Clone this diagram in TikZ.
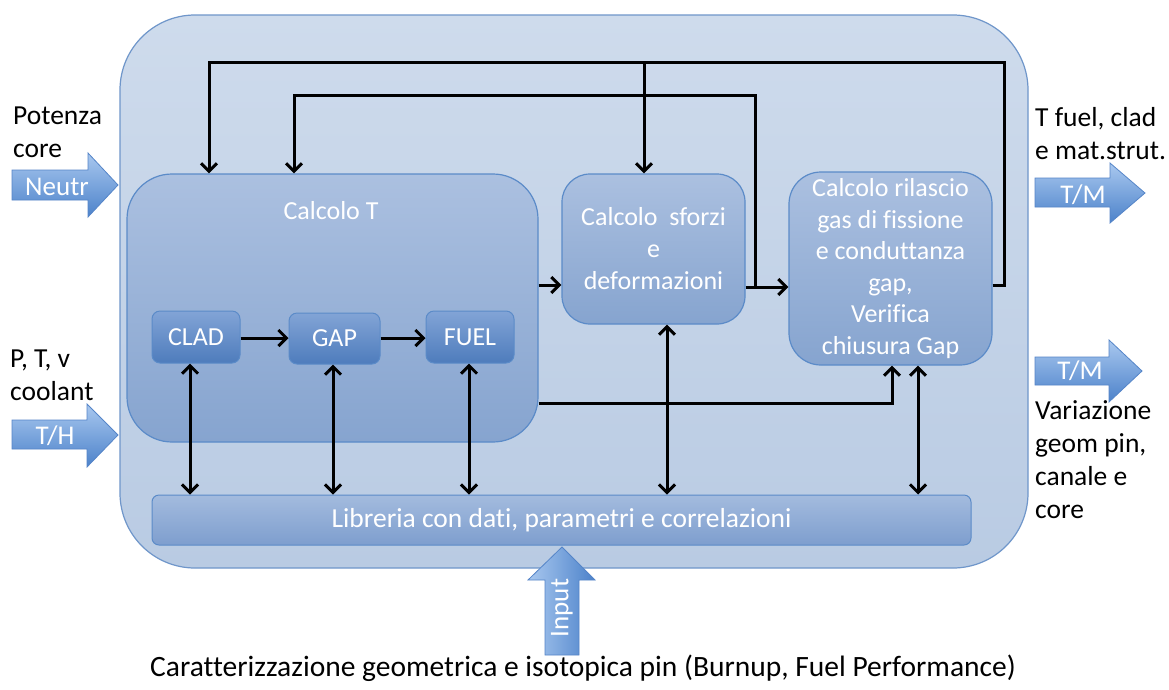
\documentclass[tikz,border=0pt]{standalone}
\usepackage{fontspec}
\setmainfont[Ligatures=NoCommon]{Carlito}
\usetikzlibrary{arrows.meta}

\definecolor{frameTop}{HTML}{CEDBEC}
\definecolor{frameBot}{HTML}{B9CBE3}
\definecolor{frameEdge}{HTML}{6F96CA}
\definecolor{panelTop}{HTML}{ABC0E0}
\definecolor{panelBot}{HTML}{86A4CF}
\definecolor{panelEdge}{HTML}{5B8BC8}
\definecolor{cellTop}{HTML}{82A4D6}
\definecolor{cellBot}{HTML}{4E7CBC}
\definecolor{libTop}{HTML}{A3BBDE}
\definecolor{libBot}{HTML}{7E9ECE}
\definecolor{fatTop}{HTML}{A9C8EF}
\definecolor{fatBot}{HTML}{4C82CA}
\definecolor{fatEdge}{HTML}{5585C8}

\begin{document}
\begin{tikzpicture}[x=1pt,y=-1pt,
  font=\fontsize{26}{32}\selectfont,
  link/.style={line width=3pt, black},
  tip/.style={-{Straight Barb[length=8pt,width=16pt]}},
  both/.style={{Straight Barb[length=8pt,width=16pt]}-{Straight Barb[length=8pt,width=16pt]}},
  frame/.style={draw=frameEdge, line width=1.2pt, top color=frameTop, bottom color=frameBot,
    rounded corners=75pt, inner sep=0pt},
  panel/.style={draw=panelEdge, line width=1.2pt, top color=panelTop, bottom color=panelBot,
    text=white, align=center, inner sep=0pt},
  cell/.style={draw=panelEdge, line width=1pt, top color=cellTop, bottom color=cellBot,
    rounded corners=8pt, text=white, inner sep=0pt, minimum width=88pt, minimum height=52pt},
  library/.style={draw=panelEdge, line width=1pt, top color=libTop, bottom color=libBot,
    rounded corners=7pt, text=white, inner sep=0pt},
  fatarrow/.style={draw=fatEdge, line width=0.8pt, top color=fatTop, bottom color=fatBot},
  fatarrowv/.style={draw=fatEdge, line width=0.8pt, left color=fatTop, right color=fatBot},
  fatlabel/.style={text=white, inner sep=0pt, font=\fontsize{27}{32}\selectfont},
  note/.style={align=left, anchor=north west, inner sep=0pt, text=black,
    font=\fontsize{27.5}{33}\selectfont}
]
\useasboundingbox (0,0) rectangle (1169,689);
\fill[white] (0,0) rectangle (1169,689);

% main frame of the code
\node[frame, minimum width=908pt, minimum height=553pt] (frame) at (574,291.5) {};

% calculation modules
\node[panel, rounded corners=45pt, minimum width=411pt, minimum height=268pt] (calcT) at (332.5,308) {};
\node[text=white, inner sep=0pt] (calcTlabel) at (331,211) {Calcolo T};
\node[panel, rounded corners=28pt, minimum width=183pt, minimum height=150pt] (sforzi) at (653.5,249)
  {Calcolo\ \ sforzi\\e\\deformazioni};
\node[panel, rounded corners=32pt, minimum width=203pt, minimum height=193pt,
  font=\fontsize{26}{31.5}\selectfont] (ril) at (890.5,268.5)
  {Calcolo rilascio\\gas di fissione\\e conduttanza\\gap,\\Verifica\\chiusura Gap};

\node[cell] (clad) at (196,337) {CLAD};
\node[cell, minimum width=91pt, minimum height=51pt] (gap) at (334.5,338.5) {GAP};
\node[cell] (fuel) at (470,337) {FUEL};

\node[library, minimum width=819pt, minimum height=50pt, font=\fontsize{27.5}{32}\selectfont]
  (lib) at (561.5,520) {Libreria con dati, parametri e correlazioni};

% junctions of the feedback lines
\coordinate (loopA) at (1004,62);
\coordinate (splitA) at (644,62);
\coordinate (loopB) at (755,287);

% connectors
\draw[link, tip] (clad.east |- 0,338) -- (gap.west |- 0,338);
\draw[link, tip] (gap.east |- 0,338) -- (fuel.west |- 0,338);
\draw[link, tip] (calcT.east |- 0,285) -- (sforzi.west |- 0,285);
\draw[link, tip] (sforzi.east |- 0,287) -- (ril.west |- 0,287);
\draw[link, tip] (ril.east |- 0,285) -| (loopA) -- (209,62) -- (calcT.north -| 209,0);
\draw[link, tip] (splitA) -- (sforzi.north -| splitA);
\draw[link, tip] (loopB) |- (294,95) -- (calcT.north -| 294,0);
\draw[link, tip] (calcT.east |- 0,403) -| (ril.south -| 892,0);

\draw[link, both] (clad.south -| 190,0) -- (lib.north -| 190,0);
\draw[link, both] (gap.south -| 333,0) -- (lib.north -| 333,0);
\draw[link, both] (fuel.south -| 469,0) -- (lib.north -| 469,0);
\draw[link, both] (sforzi.south -| 667,0) -- (lib.north -| 667,0);
\draw[link, both] (ril.south -| 918,0) -- (lib.north -| 918,0);

% block arrows for inputs and outputs
\path[fatarrow] (12,170) -- (88,170) -- (88,153) -- (118,185) -- (88,217) -- (88,200) -- (12,200) -- cycle;
\node[fatlabel] (neutr) at (57,187) {Neutr};
\path[fatarrow] (12,420) -- (87,420) -- (87,404) -- (118,435) -- (87,467) -- (87,449) -- (12,449) -- cycle;
\node[fatlabel] (th) at (55,436) {T/H};
\path[fatarrow] (1035,178) -- (1110,178) -- (1110,163) -- (1145,193) -- (1110,223) -- (1110,207) -- (1035,207) -- cycle;
\node[fatlabel] (tmA) at (1083,195) {T/M};
\path[fatarrow] (1035,357) -- (1109,357) -- (1109,340) -- (1142,371) -- (1109,402) -- (1109,385) -- (1035,385) -- cycle;
\node[fatlabel] (tmB) at (1080,371) {T/M};
\path[fatarrowv] (545,655) -- (545,580) -- (528,580) -- (562,547) -- (595,580) -- (579,580) -- (579,655) -- cycle;
\node[fatlabel, rotate=90] (input) at (562,608) {Input};

% external quantities
\node[note] (potenza) at (13,107) {Potenza\\core};
\node[note] (coolant) at (10,350) {P, T, v\\coolant};
\node[note] (tfuel) at (1035,107) {T fuel, clad\\e mat.strut.};
\node[note] (variaz) at (1035,400) {Variazione\\geom pin,\\canale e\\core};
\node[inner sep=0pt, font=\fontsize{29.5}{34}\selectfont] (caption) at (583,668)
  {Caratterizzazione geometrica e isotopica pin (Burnup, Fuel Performance)};
\end{tikzpicture}
\end{document}
